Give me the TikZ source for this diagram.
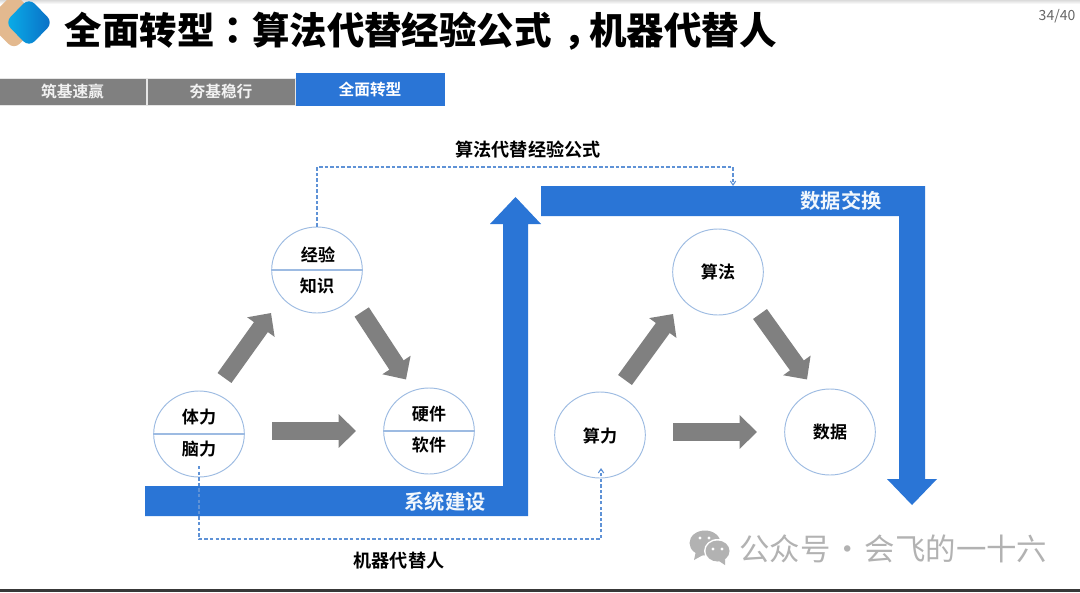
\documentclass[tikz,border=0pt]{standalone}
\usepackage{fontspec}
\usetikzlibrary{arrows.meta,shapes.geometric}
\setmainfont{Noto Sans CJK SC}
\newfontfamily\cjkb[BoldFont={Noto Sans CJK SC Bold}]{Noto Sans CJK SC}
\newfontfamily\cjkk{Noto Sans CJK SC Black}
\newfontfamily\cjktc{Noto Sans CJK TC Black}
\definecolor{blueb}{HTML}{2A75D6}
\definecolor{grayb}{HTML}{808080}
\definecolor{ringc}{HTML}{9DBBE2}
\definecolor{dashc}{HTML}{5F92D6}
\definecolor{wm}{HTML}{B2B2B2}
\definecolor{tan}{HTML}{E3B98F}
\definecolor{logoa}{HTML}{0AB0EA}
\definecolor{logob}{HTML}{0A6CC4}
\tikzset{
  ring/.style={ellipse,draw=ringc,line width=0.7pt,fill=white,minimum width=68pt,minimum height=64.5pt,inner sep=0pt},
  divider/.style={draw=ringc,line width=1pt},
  lab/.style={font=\bfseries\fontsize{12.8pt}{14pt}\selectfont,text=black,inner sep=0pt},
  flow/.style={draw=dashc,line width=0.8pt,dash pattern=on 2.6pt off 1.6pt,-{Straight Barb[length=3pt,width=4pt]}},
  bigarrow/.style={draw=grayb,line width=12.8pt,-{Triangle[length=13pt,width=24.5pt,fill=grayb]}},
  tabbox/.style={fill=grayb,draw=white!80!grayb,line width=0.4pt,minimum height=20.2pt,minimum width=111pt,inner sep=0pt,text=white!90!grayb,font=\bfseries\fontsize{11.8pt}{13pt}\selectfont},
  bartext/.style={text=white!94!blueb,font=\bfseries\fontsize{15.2pt}{17pt}\selectfont,inner sep=0pt},
  captext/.style={font=\bfseries\fontsize{13.6pt}{15pt}\selectfont,text=black,inner sep=0pt},
}
\begin{document}
\begin{tikzpicture}[x=0.75pt,y=-0.75pt]
\useasboundingbox[fill=white] (0,0) rectangle (1080,592);
% page edges
\fill[top color=black!14,bottom color=white] (0,0) rectangle (1080,4);
\fill[black!78] (0,589) rectangle (1080,592);
% logo
\begin{scope}
\clip (0,0) rectangle (60,60);
\fill[tan,rounded corners=6pt] (14,-7) -- (42,21) -- (14,49.5) -- (-14,21) -- cycle;
\shade[left color=logoa,right color=logob,rounded corners=6pt] (29,-2) -- (53,22.5) -- (29,47) -- (5,22.5) -- cycle;
\end{scope}
% title
\node[anchor=west,inner sep=0pt,font=\fontsize{28.1pt}{32pt}\selectfont,text=black] (title) at (64.5,31)
  {\cjkk 全面转型{\cjktc ：}算法代替经验公式\kern.3em，\kern-.3em 机器代替人};
\node[inner sep=0pt,font=\fontsize{10.5pt}{12pt}\selectfont,text=black!60] (page) at (1057,16) {34/40};
% tabs
\node[tabbox] (tabA) at (72.5,91.5) {\cjkb 筑基速赢};
\node[tabbox] (tabB) at (221,91.5) {\cjkb 夯基稳行};
\node[tabbox,fill=blueb,draw=blueb,minimum height=24pt,text=white] (tabC) at (370,89) {\cjkb 全面转型};
% blue L-shaped bands
\fill[blueb] (145,486) -- (503,486) -- (503,224) -- (490,224) -- (515.5,197) -- (541,224) -- (528,224) -- (528,516) -- (145,516) -- cycle;
\fill[blueb] (541,186) -- (925,186) -- (925,479) -- (937,479) -- (912,505) -- (887,479) -- (899,479) -- (899,216) -- (541,216) -- cycle;
\node[bartext] (sysl) at (445,502) {\cjkb 系统建设};
\node[bartext] (datal) at (841,201) {\cjkb 数据交换};
% rings
\node[ring] (body) at (199,434) {};
\node[ring] (hard) at (429,431) {};
\node[ring] (exp) at (317,270) {};
\node[ring] (power) at (600,435) {};
\node[ring] (algo) at (718,272) {};
\node[ring] (data) at (830,432) {};
\draw[divider] (body.west) -- (body.east);
\draw[divider] (hard.west) -- (hard.east);
\draw[divider] (exp.west) -- (exp.east);
\node[lab] (t1) at (199,417) {\cjkb 体力};
\node[lab] (t2) at (199,449) {\cjkb 脑力};
\node[lab] (t3) at (429,414) {\cjkb 硬件};
\node[lab] (t4) at (429,445) {\cjkb 软件};
\node[lab] (t5) at (318,255) {\cjkb 经验};
\node[lab] (t6) at (317,286) {\cjkb 知识};
\node[lab] (t7) at (600,436) {\cjkb 算力};
\node[lab] (t8) at (718,272) {\cjkb 算法};
\node[lab] (t9) at (830,432) {\cjkb 数据};
% gray arrows
\coordinate (a1s) at (224.5,378); \coordinate (a1e) at (271,313);
\coordinate (a2s) at (361.7,312); \coordinate (a2e) at (406,379.5);
\coordinate (a3s) at (272,431); \coordinate (a3e) at (356,431);
\coordinate (a4s) at (625,380); \coordinate (a4e) at (673,314);
\coordinate (a5s) at (760,314); \coordinate (a5e) at (807,379.5);
\coordinate (a6s) at (673,432); \coordinate (a6e) at (757,432);
\foreach \s/\e in {a1s/a1e,a2s/a2e,a3s/a3e,a4s/a4e,a5s/a5e,a6s/a6e}
  \draw[bigarrow] (\s) -- (\e);
% dashed flows
\coordinate (bodyfoot) at (199,466);
\coordinate (powerfoot) at (601,468);
\draw[flow] (bodyfoot) |- (601,539) -- (powerfoot);
\coordinate (barTop) at (733,186);
\draw[flow] (exp.north) |- (733,167) -- (barTop);
\node[captext] (c1) at (528,150) {\cjkb 算法代替经验公式};
\node[captext] (c2) at (399,561) {\cjkb 机器代替人};
% watermark
\fill[wm] (705,543) ellipse (15.5 and 12.5);
\fill[wm] (696,551) -- (694,560) -- (703,555) -- cycle;
\fill[white] (717.5,551) ellipse (13.5 and 12);
\fill[wm] (717.5,551) ellipse (12 and 10.5);
\fill[wm] (725,559) -- (725,565) -- (719,561) -- cycle;
\foreach \p in {(700,538),(709,538),(713,549),(722,549)} \fill[white] \p circle (1.7);
\node[anchor=west,inner sep=0pt,text=wm,font=\fontsize{22.8pt}{24pt}\selectfont] (wmt) at (739,549) {公众号\kern1.5pt·\kern1.5pt 会飞的一十六};
\end{tikzpicture}
\end{document}
